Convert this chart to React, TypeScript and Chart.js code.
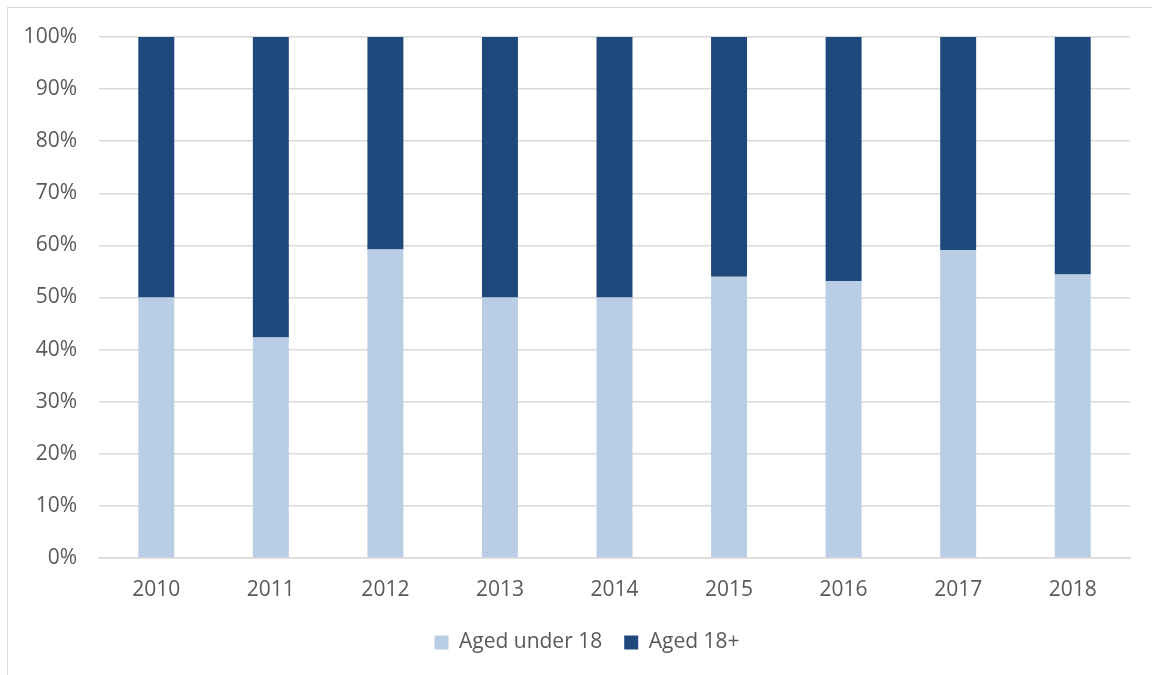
import React, { useEffect, useRef } from "react";
import { Chart, registerables } from "chart.js";

Chart.register(...registerables);

const categories = ["2010", "2011", "2012", "2013", "2014", "2015", "2016", "2017", "2018"];
const agedUnder18 = [50, 42.3, 59.2, 50, 50, 54.0, 53.1, 59.1, 54.4];
const aged18Plus = [50, 57.7, 40.8, 50, 50, 46.0, 46.9, 40.9, 45.6];
const seriesLabels = ["Aged under 18", "Aged 18+"];
const seriesColors = ["#B9CDE5", "#1F497D"];

const FONT = "'Open Sans', 'Noto Sans', sans-serif";
const TEXT = "#595959";
const GRID = "#d9d9d9";

const legendShift = {
  id: "legendShift",
  afterLayout(chart: any) {
    const l = chart.legend;
    if (l) {
      l.left += 22;
      l.right += 22;
    }
  },
};

export default function App() {
  const ref = useRef<HTMLCanvasElement | null>(null);

  useEffect(() => {
    if (!ref.current) return;
    const chart = new Chart(ref.current, {
      type: "bar",
      data: {
        labels: categories,
        datasets: [
          {
            label: seriesLabels[0],
            data: agedUnder18,
            backgroundColor: seriesColors[0],
            categoryPercentage: 1,
            barPercentage: 0.314,
          },
          {
            label: seriesLabels[1],
            data: aged18Plus,
            backgroundColor: seriesColors[1],
            categoryPercentage: 1,
            barPercentage: 0.314,
          },
        ],
      },
      plugins: [legendShift],
      options: {
        animation: false,
        responsive: false,
        maintainAspectRatio: false,
        layout: { padding: { left: 0, right: 22, top: 37, bottom: 12 } },
        plugins: {
          tooltip: { enabled: false },
          legend: {
            position: "bottom",
            labels: {
              boxWidth: 14,
              boxHeight: 14,
              padding: 22,
              color: TEXT,
              font: { family: FONT, size: 21 },
            },
          },
        },
        scales: {
          x: {
            stacked: true,
            grid: { display: false, drawTicks: false },
            border: { display: true, color: GRID, width: 1.5 },
            ticks: { color: TEXT, font: { family: FONT, size: 21 }, padding: 19, maxRotation: 0 },
            afterFit: (scale: any) => {
              scale.height = 52;
            },
          },
          y: {
            stacked: true,
            min: 0,
            max: 100,
            grid: { color: GRID, lineWidth: 1.5, drawTicks: false },
            border: { display: false },
            ticks: {
              stepSize: 10,
              padding: 22,
              color: TEXT,
              font: { family: FONT, size: 21 },
              callback: (v: any) => v + "%",
            },
            afterFit: (scale: any) => {
              scale.width = 99;
            },
          },
        },
      },
    });
    return () => chart.destroy();
  }, []);

  return (
    <div
      style={{
        position: "fixed",
        left: 0,
        top: 0,
        width: 1152,
        height: 675,
        overflow: "hidden",
        background: "#fff",
      }}
    >
      <div
        style={{
          position: "absolute",
          left: 7,
          top: 7,
          width: 1200,
          height: 700,
          borderLeft: "1px solid " + GRID,
          borderTop: "1px solid " + GRID,
        }}
      />
      <canvas ref={ref} width={1152} height={675} style={{ position: "absolute", left: 0, top: 0 }} />
    </div>
  );
}
